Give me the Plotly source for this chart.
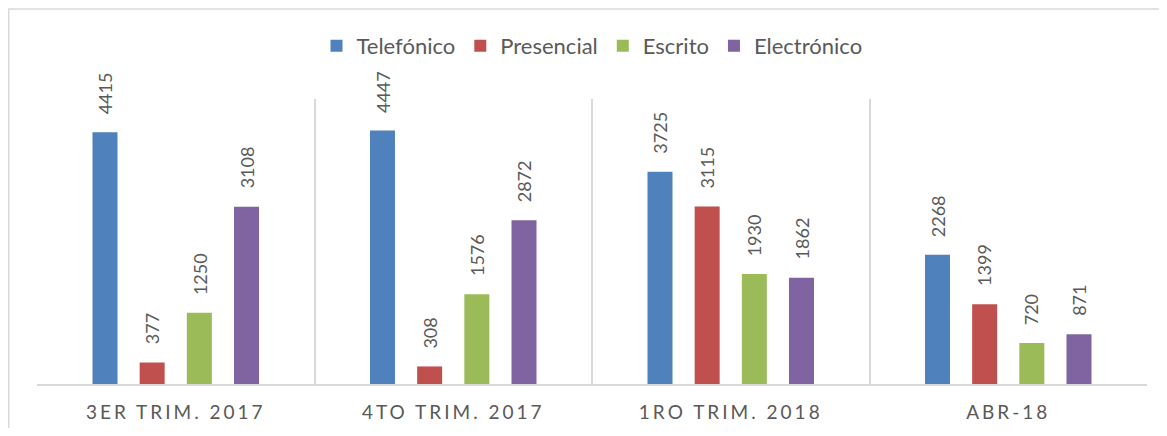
import plotly.graph_objects as go

categories = ["3ER TRIM. 2017", "4TO TRIM. 2017", "1RO TRIM. 2018", "ABR-18"]
series_names = ["Telefónico", "Presencial", "Escrito", "Electrónico"]
telefonico = [4415, 4447, 3725, 2268]
presencial = [377, 308, 3115, 1399]
escrito = [1250, 1576, 1930, 720]
electronico = [3108, 2872, 1862, 871]
colors = ["#4F81BD", "#C0504D", "#9BBB59", "#8064A2"]

values = [telefonico, presencial, escrito, electronico]

FONT = "Lato"
GREY = "#595959"
LINE = "#d9d9d9"
BARGAP = 0.32
BARGROUPGAP = 0.47

def spaced(s):
    return '<span style="letter-spacing:3px">' + s + '</span>'

fig = go.Figure()
for name, vals, col in zip(series_names, values, colors):
    fig.add_trace(go.Bar(name=name, x=categories, y=vals, marker=dict(color=col, line=dict(width=0))))

# data labels above each bar
n = len(series_names)
slot = (1 - BARGAP) / n
annotations = []
for k, vals in enumerate(values):
    for i, v in enumerate(vals):
        annotations.append(dict(
            x=i + (k - (n - 1) / 2) * slot, y=v, xref="x", yref="y",
            text=str(v), showarrow=False, textangle=-90,
            yanchor="bottom", xanchor="center", yshift=16,
            font=dict(family=FONT, size=18, color=GREY)))

# the page body adds an 8px offset; the figure is sized to compensate
fig.update_layout(
    width=1151, height=420,
    margin=dict(l=29, r=12, t=91, b=44, autoexpand=False),
    paper_bgcolor="white", plot_bgcolor="white",
    barmode="group", bargap=BARGAP, bargroupgap=BARGROUPGAP,
    showlegend=True,
    legend=dict(orientation="h", x=0.5, xanchor="center", y=1.186, yanchor="middle",
                font=dict(family=FONT, size=22, color=GREY), traceorder="normal"),
    annotations=annotations,
    shapes=[dict(type="rect", xref="paper", yref="paper", x0=-0.0255, x1=1.2, y0=-0.5, y1=1.316,
                 line=dict(color=LINE, width=1.5), layer="below")],
)
fig.update_xaxes(
    type="category", tickmode="array", tickvals=categories, ticktext=[spaced(c) for c in categories],
    tickson="boundaries", showgrid=True, gridcolor=LINE, gridwidth=1.5,
    showline=True, linecolor=LINE, linewidth=1.5, ticks="", ticklabelstandoff=10,
    tickfont=dict(family=FONT, size=19, color=GREY), range=[-0.5, 3.5], automargin=False)
fig.update_yaxes(range=[0, 5000], showgrid=False, showticklabels=False, zeroline=False,
                 showline=False, automargin=False)

fig.write_html("out.html")
